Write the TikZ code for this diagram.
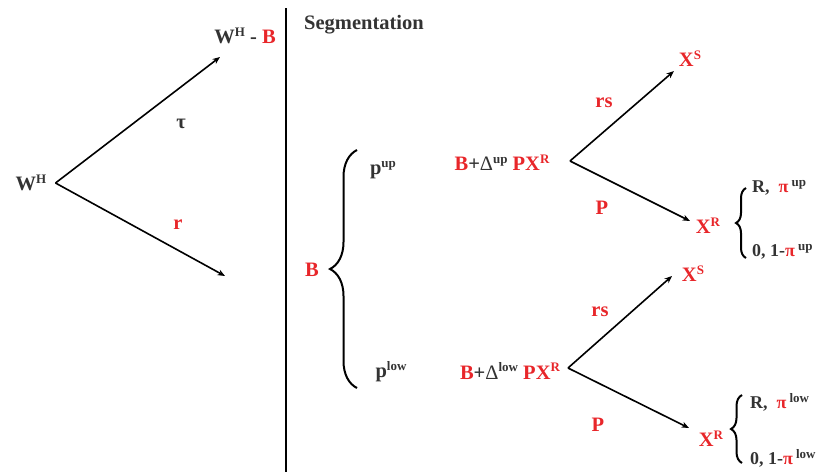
\documentclass[tikz,border=0pt]{standalone}
\usepackage{fontspec}
\setmainfont{Liberation Serif}
\usepackage{tikz}
\usetikzlibrary{arrows.meta,decorations.pathreplacing}
\definecolor{txtred}{HTML}{E8262A}
\definecolor{txtdark}{HTML}{333333}
\newcommand\sups[1]{\raisebox{0.75ex}{\fontsize{13}{13}\selectfont #1}}
\newcommand\rd[1]{\textcolor{txtred}{#1}}

\begin{document}
\begin{tikzpicture}[x=1pt,y=-1pt,
  lbl/.style={font=\fontsize{20.5}{20.5}\selectfont\bfseries,text=txtdark,
    inner sep=0pt},
  redlbl/.style={lbl,text=txtred},
  smalllbl/.style={lbl,font=\fontsize{18}{18}\selectfont\bfseries},
  flow/.style={-{Stealth[length=7.5pt,width=6pt]},line width=1.6pt},
  curly/.style={decorate,line width=2pt,
    decoration={brace,amplitude=#1}}]
\useasboundingbox (0,0) rectangle (825,472);
% left part: W^H splits
\node[lbl] (wh) at (31,183) {W\sups{H}};
\node[lbl] (whb) at (245,36) {W\sups{H} - \rd{B}};
\node[lbl] (tau) at (181,124) {τ};
\node[redlbl] (rr) at (178,225) {r};
\coordinate (wsplit) at ([xshift=9pt]wh.east);
\coordinate (wtop) at (220,57);
\coordinate (wbot) at (225,276);
\draw[flow] (wsplit) -- (wtop);
\draw[flow] (wsplit) -- (wbot);
% separator
\draw[line width=1.8pt] (286,8) -- (286,472);
\node[lbl] (seg) at (364,25) {Segmentation};
% segmentation brace
\node[redlbl] (bb) at (312,270) {B};
\node[lbl] (pup) at (383,170) {p\sups{up}};
\node[lbl] (plow) at (391,372) {p\sups{low}};
\draw[curly=27pt] (357,388) -- (357,150);
\node[lbl] (bup) at (502,163) {\rd{B}+{\mdseries Δ}\sups{up} \rd{PX\sups{R}}};
\node[lbl] (blow) at (510,371) {\rd{B}+{\mdseries Δ}\sups{low} \rd{PX\sups{R}}};
% upper tree
\coordinate (usplit) at (570,161);
\coordinate (ustop) at (674,71);
\coordinate (urbot) at (690,221);
\draw[flow] (usplit) -- (ustop);
\draw[flow] (usplit) -- (urbot);
\node[redlbl] (rsu) at (604,103) {rs};
\node[redlbl] (pu) at (602,208) {P};
\node[redlbl] (xsu) at (690,59) {X\sups{S}};
\node[redlbl] (xru) at (708,226) {X\sups{R}};
\draw[curly=10pt] (746,258) -- (746,188);
\node[smalllbl,anchor=west] (rpiu) at (752,188) {R,\ \ \rd{π}\,\sups{up}};
\node[smalllbl,anchor=west] (zpiu) at (752,252) {0, 1-\rd{π}\,\sups{up}};
% lower tree
\coordinate (lsplit) at (568,368);
\coordinate (lstop) at (672,276);
\coordinate (lrbot) at (689,428);
\draw[flow] (lsplit) -- (lstop);
\draw[flow] (lsplit) -- (lrbot);
\node[redlbl] (rsl) at (600,312) {rs};
\node[redlbl] (pl) at (598,425) {P};
\node[redlbl] (xsl) at (693,274) {X\sups{S}};
\node[redlbl] (xrl) at (711,439) {X\sups{R}};
\draw[curly=11pt] (742,463) -- (742,395);
\node[smalllbl,anchor=west] (rpil) at (750,402) {R,\ \ \rd{π}\,\sups{low}};
\node[smalllbl,anchor=west] (zpil) at (750,458) {0, 1-\rd{π}\,\sups{low}};
\end{tikzpicture}
\end{document}
